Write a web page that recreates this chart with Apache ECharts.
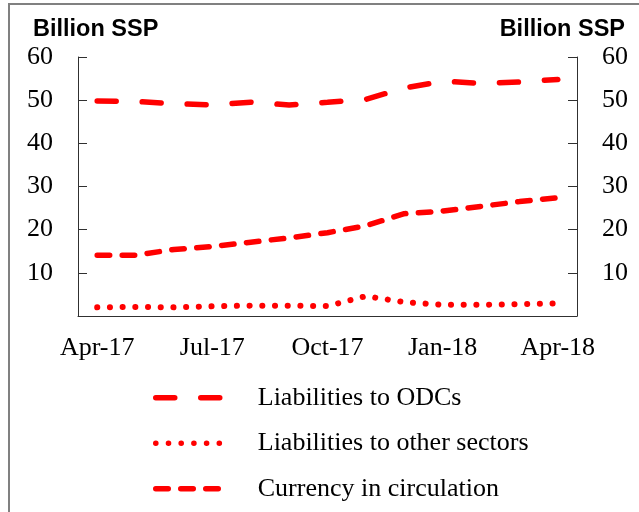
<!DOCTYPE html>
<html>
<head>
<meta charset="utf-8">
<script src="https://cdn.jsdelivr.net/npm/echarts@6/dist/echarts.min.js"></script>
<style>
  html, body { margin: 0; padding: 0; background: #fff; }
  #chart { width: 639px; height: 512px; }
</style>
</head>
<body>
<div id="chart"></div>
<script>
var chart = echarts.init(document.getElementById('chart'));

var months = ['Apr-17', 'May-17', 'Jun-17', 'Jul-17', 'Aug-17', 'Sep-17', 'Oct-17',
              'Nov-17', 'Dec-17', 'Jan-18', 'Feb-18', 'Mar-18', 'Apr-18'];
var odcs = [49.8, 49.7, 49.2, 48.9, 49.5, 48.9, 49.5, 50.2, 52.8, 54.4, 53.9, 54.2, 54.8];
var otherSectors = [2.0, 2.1, 2.0, 2.25, 2.4, 2.4, 2.3, 4.6, 3.2, 2.6, 2.6, 2.75, 2.9];
var currency = [14.1, 14.1, 15.4, 16.1, 17.1, 18.1, 19.3, 20.9, 23.7, 24.3, 25.4, 26.5, 27.4];

var serif = '"Liberation Serif", "Times New Roman", serif';
var sans = '"Liberation Sans", Arial, sans-serif';
var axisColor = '#303030';

function yAxisDef(pos) {
    return {
        type: 'value',
        position: pos,
        min: 0,
        max: 60,
        interval: 10,
        splitLine: { show: false },
        axisLine: { show: true, lineStyle: { color: axisColor, width: 1 } },
        axisTick: { show: true, inside: true, length: 9, lineStyle: { color: axisColor } },
        axisLabel: {
            margin: 25,
            fontFamily: serif,
            fontSize: 26,
            color: '#000',
            formatter: function (v) { return v === 0 ? '' : v; }
        }
    };
}

option = {
    animation: false,
    backgroundColor: '#fff',
    graphic: [{
        type: 'rect',
        shape: { x: 9, y: 4, width: 700, height: 600 },
        style: { fill: 'none', stroke: '#808080', lineWidth: 2 }
    }],
    title: [
        { text: 'Billion SSP', left: 28, top: 13,
          textStyle: { fontFamily: sans, fontSize: 23.5, fontWeight: 'bold', color: '#000' } },
        { text: 'Billion SSP', right: 9, top: 13,
          textStyle: { fontFamily: sans, fontSize: 23.5, fontWeight: 'bold', color: '#000' } }
    ],
    grid: { left: 78, right: 62, top: 57, bottom: 196 },
    legend: {
        orient: 'vertical',
        left: 148,
        top: 379,
        itemWidth: 70,
        itemHeight: 12,
        itemGap: 18,
        selectedMode: false,
        itemStyle: { color: 'rgba(0,0,0,0)', borderWidth: 0, opacity: 0 },
        lineStyle: { width: 5.5 },
        textStyle: { fontFamily: serif, fontSize: 26, lineHeight: 27.5, color: '#000', padding: [0, 0, 0, 27] },
        data: ['Liabilities to ODCs', 'Liabilities to other sectors', 'Currency in circulation']
    },
    xAxis: {
        type: 'category',
        data: months,
        boundaryGap: true,
        axisLine: { lineStyle: { color: axisColor, width: 1 } },
        axisTick: { interval: 2, length: 8, lineStyle: { color: axisColor } },
        axisLabel: { interval: 2, margin: 19, fontFamily: serif, fontSize: 26, color: '#000' }
    },
    yAxis: [yAxisDef('left'), yAxisDef('right')],
    series: [
        {
            name: 'Liabilities to ODCs',
            type: 'line',
            symbol: 'none',
            data: odcs,
            color: '#ff0000',
            lineStyle: { color: '#ff0000', width: 5.5, type: [19, 26], cap: 'round' }
        },
        {
            name: 'Liabilities to other sectors',
            type: 'line',
            symbol: 'none',
            data: otherSectors,
            color: '#ff0000',
            lineStyle: { color: '#ff0000', width: 6, type: [0.1, 12.6], cap: 'round' }
        },
        {
            name: 'Currency in circulation',
            type: 'line',
            symbol: 'none',
            data: currency,
            color: '#ff0000',
            lineStyle: { color: '#ff0000', width: 5.5, type: [12.5, 12.5], cap: 'round' }
        }
    ]
};
chart.setOption(option);
</script>
</body>
</html>
